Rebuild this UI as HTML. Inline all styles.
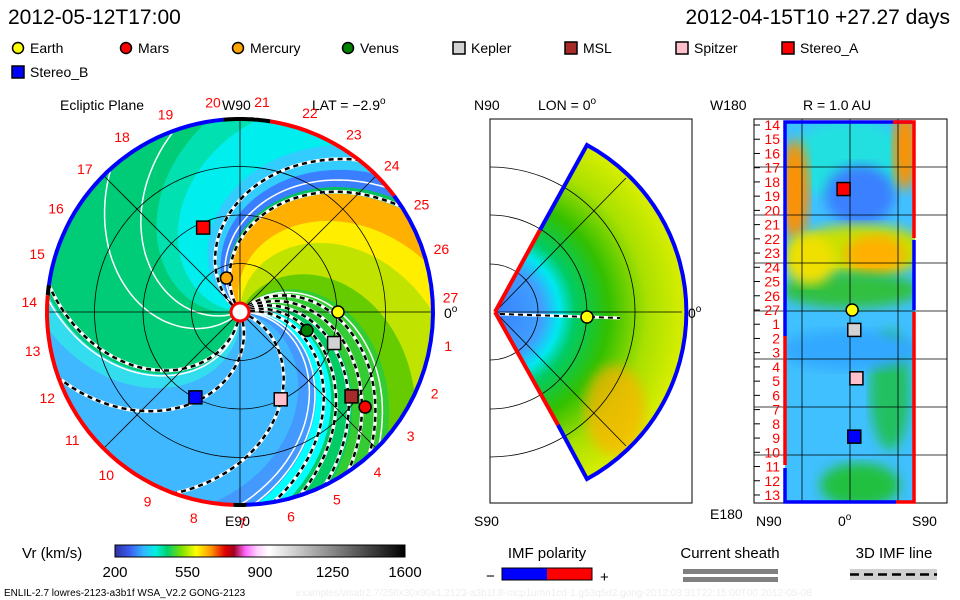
<!DOCTYPE html>
<html><head><meta charset="utf-8">
<style>
html,body{margin:0;padding:0;background:#fff;}
svg{display:block;font-family:"Liberation Sans",sans-serif;}
</style></head>
<body>
<svg id="root" width="960" height="600" viewBox="0 0 960 600">
<defs>
<clipPath id="diskClip"><circle cx="240" cy="312" r="193"/></clipPath>
<linearGradient id="cbar" x1="0" x2="1" y1="0" y2="0">
<stop offset="0" stop-color="#3030a0"/><stop offset="0.05" stop-color="#3a5cf0"/>
<stop offset="0.1" stop-color="#30b8ff"/><stop offset="0.14" stop-color="#00f0e0"/>
<stop offset="0.18" stop-color="#00d070"/><stop offset="0.23" stop-color="#80e000"/>
<stop offset="0.28" stop-color="#ffff00"/><stop offset="0.33" stop-color="#ff9900"/>
<stop offset="0.38" stop-color="#e00000"/><stop offset="0.41" stop-color="#a00020"/>
<stop offset="0.45" stop-color="#ff66ff"/><stop offset="0.49" stop-color="#ffd0ff"/>
<stop offset="0.53" stop-color="#ffffff"/><stop offset="1" stop-color="#000000"/>
</linearGradient>
<radialGradient id="wedgeGrad" cx="495" cy="312" r="190" gradientUnits="userSpaceOnUse">
<stop offset="0" stop-color="#3a80ff"/><stop offset="0.25" stop-color="#40a0ff"/>
<stop offset="0.34" stop-color="#00e8f0"/><stop offset="0.42" stop-color="#00cc66"/>
<stop offset="0.6" stop-color="#33c000"/><stop offset="0.8" stop-color="#a8e000"/>
<stop offset="1" stop-color="#d8ee00"/>
</radialGradient>
<filter id="blur"><feGaussianBlur stdDeviation="6"/></filter>
<clipPath id="rectClip"><rect x="785" y="122" width="130" height="380"/></clipPath>
<clipPath id="wedgeClip"><path d="M495,312 L587,145 A190,190 0 0 1 587,479 Z"/></clipPath>
</defs>

<text x="8" y="24" font-size="21">2012-05-12T17:00</text>
<text x="950" y="24" font-size="21" text-anchor="end">2012-04-15T10 +27.27 days</text>

<g id="legend" font-size="14"></g>

<g id="left">
<text x="60" y="110" font-size="14">Ecliptic Plane</text>
<text x="222" y="110" font-size="14">W90</text>
<text x="312" y="110" font-size="14">LAT = −2.9<tspan dy="-6" font-size="10">o</tspan></text>
<text x="225" y="526" font-size="14">E90</text>
<text x="444" y="318" font-size="14">0<tspan dy="-6" font-size="10">o</tspan></text>
</g>

<g id="mid">
<rect x="490" y="119" width="202" height="384" fill="none" stroke="#000" stroke-width="1"/>
<text x="474" y="110" font-size="14">N90</text>
<text x="538" y="110" font-size="14">LON = 0<tspan dy="-6" font-size="10">o</tspan></text>
<text x="474" y="526" font-size="14">S90</text>
<text x="688" y="318" font-size="14">0<tspan dy="-6" font-size="10">o</tspan></text>
</g>

<g id="right">
<rect x="754" y="119" width="193" height="384" fill="none" stroke="#000"/>
<text x="710" y="110" font-size="14">W180</text>
<text x="803" y="110" font-size="14">R = 1.0 AU</text>
<text x="710" y="519" font-size="14">E180</text>
<text x="756" y="526" font-size="14">N90</text>
<text x="838" y="526" font-size="14">0<tspan dy="-6" font-size="10">o</tspan></text>
<text x="912" y="526" font-size="14">S90</text>
</g>

<g>
<text x="22" y="558" font-size="15">Vr (km/s)</text>
<rect x="115" y="545" width="290" height="12" fill="url(#cbar)" stroke="#000"/>
<g id="cbticks" font-size="15" text-anchor="middle"></g>
</g>
<g>
<text x="547" y="558" font-size="15" text-anchor="middle">IMF polarity</text>
<rect x="502" y="568" width="45" height="12" fill="#0000ff"/>
<rect x="547" y="568" width="45" height="12" fill="#ff0000"/>
<rect x="502" y="568" width="90" height="12" fill="none" stroke="#000"/>
<text x="486" y="581" font-size="15">−</text>
<text x="600" y="582" font-size="15">+</text>
</g>
<g>
<text x="730" y="558" font-size="15" text-anchor="middle">Current sheath</text>
<rect x="683" y="569" width="95" height="5" fill="#808080"/>
<rect x="683" y="577" width="95" height="5" fill="#808080"/>
</g>
<g>
<text x="894" y="558" font-size="15" text-anchor="middle">3D IMF line</text>
<rect x="850" y="569" width="87" height="11" fill="#d0d0d0"/>
<line x1="850" y1="574.5" x2="937" y2="574.5" stroke="#000" stroke-width="2.5" stroke-dasharray="9,5"/>
</g>
<text x="4" y="596" font-size="10">ENLIL-2.7 lowres-2123-a3b1f WSA_V2.2 GONG-2123</text>
<text x="296" y="596" font-size="10" fill="#eeeeee">examples/wsatr2.7/256x30x90x1.2123-a3b1f.8-mcp1umn1cd-1.g53q5d2.gong-2012:03:31T22:15:00T00   2012-05-08</text>

<script>
const NS='http://www.w3.org/2000/svg';
const root=document.getElementById('root');
function mk(tag,attrs,parent){const e=document.createElementNS(NS,tag);for(const k in attrs)e.setAttribute(k,attrs[k]);(parent||root).appendChild(e);return e;}

// ---- data ----
const legendNames=['Earth','Mars','Mercury','Venus','Kepler','MSL','Spitzer','Stereo_A','Stereo_B'];
const legendColors=['#ffff00','#ff0000','#ffa500','#008000','#d3d3d3','#a52a2a','#ffc0cb','#ff0000','#0000ff'];
const legendShapes=['c','c','c','c','s','s','s','s','s'];
// ecliptic positions (AU)
const eclX=[1.01,1.29,-0.14,0.69,0.97,1.15,0.42,-0.38,-0.46];
const eclY=[0.0,-0.98,0.35,-0.19,-0.32,-0.87,-0.90,0.87,-0.88];
// 1AU panel markers: Earth, Kepler, Spitzer, Stereo_A, Stereo_B
const latIdx=[0,4,6,7,8];
const latVal=[2,4,6,-6,4];
const lonPos=[13.0,14.4,17.8,4.5,21.9];
// bands at outer edge: start angle, end angle, colour
const bandStart=[-62,-40,-25,0,15,32,36,46,60,85,100,175,185,262,275,285];
const bandEnd=[-40,-25,0,15,32,36,46,60,85,100,175,185,262,275,285,298];
const bandColor=['#33cc33','#66cc00','#c0e400','#ffee00','#ffb000','#00c060','#3a7fff','#33ccff','#00eeee','#00e0b0','#00cc77','#33ddee','#40b8ff','#4499ff','#00ffff','#00cc66'];
const sheathEdges=[33,52,172,200,250,-48,-56,-64,-72,-80];
const whiteEdges=[40,110,132,176,-44,-86,-90];
const cbTicks=[200,550,900,1250,1600];
const dayLabels=[14,15,16,17,18,19,20,21,22,23,24,25,26,27,1,2,3,4,5,6,7,8,9,10,11,12,13];

// ---- axes ----
const CX=240,CY=312,R=193,AU=97,K=0.47;
const px=(r,phi)=>CX+r*Math.cos(phi*Math.PI/180);
const py=(r,phi)=>CY-r*Math.sin(phi*Math.PI/180);
const spiralPhi=(edge,r)=>edge+K*(R-r);
const auX=x=>CX+x*AU, auY=y=>CY-y*AU;
const cbX=v=>115+(v-200)/(1600-200)*290;
const latX=l=>850+l*1.07;
const lonY=i=>125+i*14.23;

// legend
const lg=document.getElementById('legend');
legendNames.forEach((n,i)=>{
  const row=i<8?0:1, col=i<8?i:0;
  const colX=[12,120,232,342,453,565,676,782];
  const x=colX[col], y=row?72:48;
  let m;
  if(legendShapes[i]==='c') m=mk('circle',{cx:x+6,cy:y,r:5.5,fill:legendColors[i],stroke:'#000','stroke-width':1.5},lg);
  else m=mk('rect',{x:x,y:y-6,width:12,height:12,fill:legendColors[i],stroke:'#000','stroke-width':1.5},lg);
  
  
  const t=mk('text',{x:x+18,y:y+5},lg);t.textContent=n;
  
  
});

// left disk
const left=document.getElementById('left');
const disk=mk('g',{'clip-path':'url(#diskClip)'},left);


mk('circle',{cx:CX,cy:CY,r:R,fill:'#40b8ff'},disk);
function spiralPts(edge,r0,r1,n){const p=[];for(let j=0;j<=n;j++){const r=r0+(r1-r0)*j/n;const ph=spiralPhi(edge,r);p.push(px(r,ph).toFixed(1)+','+py(r,ph).toFixed(1));}return p;}
bandStart.forEach((a,i)=>{
  const b=bandEnd[i];
  let pts=spiralPts(a,0,R+10,30);
  for(let j=0;j<=10;j++){const ph=a+(b-a)*j/10;pts.push(px(R+10,ph).toFixed(1)+','+py(R+10,ph).toFixed(1));}
  pts=pts.concat(spiralPts(b,R+10,0,30));
  const pg=mk('polygon',{points:pts.join(' '),fill:bandColor[i],stroke:bandColor[i],'stroke-width':0.5},disk);
  
  
});
whiteEdges.forEach(e=>{
  const pl=mk('polyline',{points:spiralPts(e,10,R,40).join(' '),fill:'none',stroke:'#fff','stroke-width':1.5},disk);
  
  
});
sheathEdges.forEach(e=>{
  const p=spiralPts(e,10,R,40).join(' ');
  const w=mk('polyline',{points:p,fill:'none',stroke:'#fff','stroke-width':3.5},disk);
  
  
  const d=mk('polyline',{points:p,fill:'none',stroke:'#000','stroke-width':2.5,'stroke-dasharray':'5,4'},disk);
  
  
});
[0.5,1,1.5].forEach(r=>{const c=mk('circle',{cx:CX,cy:CY,r:r*AU,fill:'none',stroke:'#000','stroke-width':0.8},left);
  });
[0,45,90,135].forEach(a=>{const l=mk('line',{x1:px(R,a),y1:py(R,a),x2:px(R,a+180),y2:py(R,a+180),stroke:'#000','stroke-width':0.8},left);
  });
const ringSegs=[[81,37,'#ff0000'],[37,-88,'#0000ff'],[-88,-92,'#000'],[-92,-185,'#ff0000'],[175,172,'#000'],[172,95,'#0000ff'],[95,81,'#000']];
ringSegs.forEach(s=>{
  const [a,b,c]=s;const pts=[];for(let j=0;j<=30;j++){const ph=a+(b-a)*j/30;pts.push(px(R,ph).toFixed(1)+','+py(R,ph).toFixed(1));}
  const pl=mk('polyline',{points:pts.join(' '),fill:'none',stroke:c,'stroke-width':4},left);
  
  
});
const sun=mk('circle',{cx:CX,cy:CY,r:9,fill:'#fff',stroke:'#ff0000','stroke-width':3},left);


dayLabels.forEach((n,i)=>{
  const ang=4+(27-n)*360/27;
  const t=mk('text',{x:px(211,ang),y:py(211,ang)+5,'font-size':14,fill:'#ff0000','text-anchor':'middle'},left);
  t.textContent=n;
  
  
});
legendNames.forEach((n,i)=>{
  const x=auX(eclX[i]),y=auY(eclY[i]);let m;
  if(legendShapes[i]==='c') m=mk('circle',{cx:x,cy:y,r:6,fill:legendColors[i],stroke:'#000','stroke-width':1.5},left);
  else m=mk('rect',{x:x-6.5,y:y-6.5,width:13,height:13,fill:legendColors[i],stroke:'#000','stroke-width':1.5},left);
  
  
});

// middle panel
const mid=document.getElementById('mid');
const wg=mk('g',{'clip-path':'url(#wedgeClip)'},mid);

mk('rect',{x:490,y:119,width:202,height:384,fill:'url(#wedgeGrad)'},wg);
mk('ellipse',{cx:615,cy:410,rx:30,ry:45,fill:'#ffb000',opacity:0.7,filter:'url(#blur)'},wg);
[48,97,145].forEach(r=>{const p=mk('path',{d:`M490,${312-r} A${r},${r} 0 0 1 490,${312+r}`,fill:'none',stroke:'#000','stroke-width':0.8},mid);
  });
mk('line',{x1:495,y1:312,x2:682,y2:312,stroke:'#000','stroke-width':0.8},mid);
mk('line',{x1:495,y1:312,x2:626,y2:178,stroke:'#000','stroke-width':0.8},mid);
mk('line',{x1:495,y1:312,x2:626,y2:446,stroke:'#000','stroke-width':0.8},mid);
mk('path',{d:'M495,312 L540,230',stroke:'#ff0000','stroke-width':4,fill:'none'},mid);
mk('path',{d:'M495,312 L558,425',stroke:'#ff0000','stroke-width':4,fill:'none'},mid);
mk('path',{d:'M540,230 L587,145 A190,190 0 0 1 587,479 L558,425',stroke:'#0000ff','stroke-width':4,fill:'none'},mid);
mk('line',{x1:500,y1:314,x2:620,y2:318,stroke:'#fff','stroke-width':3},mid);
mk('line',{x1:500,y1:314,x2:620,y2:318,stroke:'#000','stroke-width':2,'stroke-dasharray':'5,4'},mid);
const me=mk('circle',{cx:587,cy:317,r:6,fill:'#ffff00',stroke:'#000','stroke-width':1.5},mid);


// right panel
const right=document.getElementById('right');
const rg=mk('g',{'clip-path':'url(#rectClip)'},right);

mk('rect',{x:785,y:122,width:130,height:380,fill:'#40c0ff'},rg);
const blobs=[[850,160,60,40,'#20e0e0'],[860,195,35,30,'#3a80ff'],[795,190,14,50,'#ff9000'],[905,150,12,40,'#ff9000'],[860,250,70,25,'#c8e000'],[875,255,30,20,'#ffb000'],[850,290,70,18,'#30c040'],[810,260,25,25,'#f0e000'],[890,390,20,60,'#20c060'],[860,485,40,22,'#20c040'],[850,350,70,20,'#30a8ff']];
blobs.forEach(b=>{const e=mk('ellipse',{cx:b[0],cy:b[1],rx:b[2],ry:b[3],fill:b[4],filter:'url(#blur)'},rg);
  });
[167,215,263,311,359,407,455].forEach(y=>{mk('line',{x1:754,y1:y,x2:947,y2:y,stroke:'#000','stroke-width':0.8},right);});
[802,850,898].forEach(x=>{mk('line',{x1:x,y1:119,x2:x,y2:503,stroke:'#000','stroke-width':0.8},right);});
mk('path',{d:'M785,336 L785,122 L912,122',stroke:'#0000ff','stroke-width':3.5,fill:'none'},right);
mk('path',{d:'M785,336 L785,465',stroke:'#ff0000','stroke-width':3.5,fill:'none'},right);
mk('path',{d:'M785,468 L785,502 L896,502',stroke:'#0000ff','stroke-width':3.5,fill:'none'},right);
mk('path',{d:'M896,502 L914,502 L914,312',stroke:'#ff0000','stroke-width':3.5,fill:'none'},right);
mk('path',{d:'M914,310 L914,240',stroke:'#0000ff','stroke-width':3.5,fill:'none'},right);
mk('path',{d:'M914,238 L914,122 L893,122',stroke:'#ff0000','stroke-width':3.5,fill:'none'},right);
dayLabels.forEach((n,i)=>{
  const t=mk('text',{x:780,y:lonY(i)+5,'font-size':14,fill:'#ff0000','text-anchor':'end'},right);
  t.textContent=n;
  
  
  mk('line',{x1:754,y1:lonY(i),x2:760,y2:lonY(i),stroke:'#000'},right);
});
latIdx.forEach((k,j)=>{
  const x=latX(latVal[j]),y=lonY(lonPos[j]);let m;
  if(legendShapes[k]==='c') m=mk('circle',{cx:x,cy:y,r:6,fill:legendColors[k],stroke:'#000','stroke-width':1.5},right);
  else m=mk('rect',{x:x-6.5,y:y-6.5,width:13,height:13,fill:legendColors[k],stroke:'#000','stroke-width':1.5},right);
  
  
});

// colorbar ticks
const cbt=document.getElementById('cbticks');
cbTicks.forEach(v=>{const t=mk('text',{x:cbX(v),y:577},cbt);t.textContent=v;
  });
</script>
</svg>
</body></html>
